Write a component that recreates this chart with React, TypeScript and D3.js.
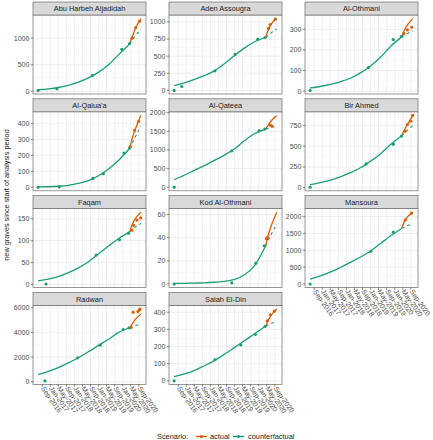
import React from "react";
import * as d3 from "d3";

const sites = [
  "Abu Harbeh Aljadidah",
  "Aden Assougra",
  "Al-Othmani",
  "Al-Qalua'a",
  "Al-Qateea",
  "Bir Ahmed",
  "Faqam",
  "Kod Al-Othmani",
  "Mansoura",
  "Radwan",
  "Salah El-Din",
];

const xDomain = ["2016-07-01", "2020-10-01"];
const xTickDates = [
  "2016-09-01", "2017-01-01", "2017-05-01", "2017-09-01", "2018-01-01",
  "2018-05-01", "2018-09-01", "2019-01-01", "2019-05-01", "2019-09-01",
  "2020-01-01", "2020-05-01", "2020-09-01",
];

const yTicks: number[][] = [
  [0, 500, 1000],
  [0, 250, 500, 750, 1000],
  [0, 100, 200, 300],
  [0, 100, 200, 300, 400],
  [0, 500, 1000, 1500, 2000],
  [0, 250, 500, 750],
  [0, 50, 100, 150],
  [0, 20, 40, 60],
  [0, 500, 1000, 1500, 2000],
  [0, 2000, 4000, 6000],
  [0, 100, 200, 300, 400],
];

// counterfactual model fit (solid green), before the break
const fitDates = [
  "2016-07-01", "2016-12-01", "2017-05-01", "2017-10-01", "2018-03-01",
  "2018-08-01", "2019-01-01", "2019-06-01", "2019-11-01", "2020-04-15",
];
const counterfactualFit: number[][] = [
  [28, 45, 70, 110, 170, 250, 360, 500, 690, 890],
  [70, 110, 160, 215, 285, 390, 510, 620, 710, 775],
  [15, 22, 32, 45, 62, 88, 122, 165, 218, 262],
  [2, 3, 6, 12, 24, 42, 72, 115, 170, 245],
  [200, 320, 450, 580, 720, 860, 1030, 1250, 1440, 1560],
  [35, 60, 90, 130, 180, 240, 320, 410, 520, 625],
  [8, 12, 18, 27, 38, 52, 70, 88, 105, 120],
  [0.5, 0.6, 0.8, 1, 1.5, 2.2, 4, 8, 16, 33],
  [145, 240, 350, 490, 640, 800, 980, 1200, 1430, 1650],
  [590, 850, 1150, 1530, 1950, 2430, 2950, 3450, 4000, 4380],
  [25, 40, 60, 88, 118, 155, 195, 235, 275, 320],
];

// actual model fit (orange), after the break
const actualFitDates = ["2020-04-15", "2020-06-01", "2020-08-01", "2020-10-01"];
const actualFit: number[][] = [
  [890, 1060, 1240, 1370],
  [775, 900, 1000, 1047],
  [262, 300, 330, 352],
  [245, 320, 390, 452],
  [1560, 1690, 1830, 1925],
  [625, 705, 790, 872],
  [120, 140, 155, 165],
  [33, 44, 54, 62],
  [1650, 1880, 2030, 2130],
  [4380, 4750, 5200, 5480],
  [320, 360, 395, 419],
];

// counterfactual projection (dashed green), after the break
const projectionDates = ["2020-04-15", "2020-07-01", "2020-10-01"];
const projection: number[][] = [
  [890, 1030, 1165],
  [775, 835, 896],
  [262, 278, 292],
  [245, 310, 384],
  [1560, 1600, 1640],
  [625, 685, 750],
  [120, 130, 139],
  [33, 42, 52],
  [1650, 1720, 1790],
  [4380, 4530, 4680],
  [320, 333, 347],
];

// observed counts: [site, date, new graves]
const pointsBefore: [string, string, number][] = [
  ["Abu Harbeh Aljadidah", "2016-07-01", 15],
  ["Abu Harbeh Aljadidah", "2017-04-10", 45],
  ["Abu Harbeh Aljadidah", "2018-10-01", 300],
  ["Abu Harbeh Aljadidah", "2019-12-19", 790],
  ["Abu Harbeh Aljadidah", "2020-04-13", 900],
  ["Aden Assougra", "2016-07-01", 0],
  ["Aden Assougra", "2016-10-25", 57],
  ["Aden Assougra", "2018-03-10", 286],
  ["Aden Assougra", "2019-01-10", 524],
  ["Aden Assougra", "2019-12-19", 747],
  ["Aden Assougra", "2020-04-07", 771],
  ["Al-Othmani", "2016-07-01", 3],
  ["Al-Othmani", "2018-11-28", 114],
  ["Al-Othmani", "2019-12-10", 250],
  ["Al-Othmani", "2020-04-10", 265],
  ["Al-Qalua'a", "2016-07-01", 0],
  ["Al-Qalua'a", "2017-05-15", 2],
  ["Al-Qalua'a", "2018-10-07", 55],
  ["Al-Qalua'a", "2019-03-13", 85],
  ["Al-Qalua'a", "2020-01-22", 214],
  ["Al-Qalua'a", "2020-04-13", 247],
  ["Al-Qateea", "2016-07-01", 0],
  ["Al-Qateea", "2018-11-19", 970],
  ["Al-Qateea", "2020-01-07", 1508],
  ["Al-Qateea", "2020-04-01", 1560],
  ["Bir Ahmed", "2016-07-01", 5],
  ["Bir Ahmed", "2018-10-25", 286],
  ["Bir Ahmed", "2019-12-10", 524],
  ["Bir Ahmed", "2020-04-13", 622],
  ["Faqam", "2016-10-28", 1],
  ["Faqam", "2018-11-25", 67],
  ["Faqam", "2019-11-13", 102],
  ["Faqam", "2020-03-28", 117],
  ["Kod Al-Othmani", "2016-07-01", 0],
  ["Kod Al-Othmani", "2018-11-19", 1],
  ["Kod Al-Othmani", "2019-11-19", 18],
  ["Kod Al-Othmani", "2020-03-25", 33],
  ["Mansoura", "2016-07-01", 0],
  ["Mansoura", "2019-01-04", 970],
  ["Mansoura", "2019-12-10", 1540],
  ["Radwan", "2016-10-13", 80],
  ["Radwan", "2018-02-19", 1940],
  ["Radwan", "2019-01-25", 2970],
  ["Radwan", "2020-01-07", 4240],
  ["Radwan", "2020-04-07", 4370],
  ["Salah El-Din", "2016-07-01", 0],
  ["Salah El-Din", "2018-03-10", 123],
  ["Salah El-Din", "2019-04-04", 210],
  ["Salah El-Din", "2019-11-10", 271],
  ["Salah El-Din", "2020-04-07", 318],
];

const pointsAfter: [string, string, number][] = [
  ["Abu Harbeh Aljadidah", "2020-05-20", 1000],
  ["Abu Harbeh Aljadidah", "2020-07-15", 1200],
  ["Abu Harbeh Aljadidah", "2020-09-10", 1320],
  ["Aden Assougra", "2020-05-28", 904],
  ["Aden Assougra", "2020-06-22", 961],
  ["Aden Assougra", "2020-09-07", 1038],
  ["Al-Othmani", "2020-05-19", 280],
  ["Al-Othmani", "2020-07-10", 297],
  ["Al-Othmani", "2020-09-13", 310],
  ["Al-Qalua'a", "2020-04-25", 255],
  ["Al-Qalua'a", "2020-06-28", 358],
  ["Al-Qalua'a", "2020-08-28", 415],
  ["Al-Qateea", "2020-06-22", 1665],
  ["Al-Qateea", "2020-07-19", 1640],
  ["Bir Ahmed", "2020-06-04", 682],
  ["Bir Ahmed", "2020-07-10", 762],
  ["Bir Ahmed", "2020-09-01", 801],
  ["Bir Ahmed", "2020-09-28", 872],
  ["Faqam", "2020-05-18", 124],
  ["Faqam", "2020-06-12", 135],
  ["Faqam", "2020-08-03", 147],
  ["Faqam", "2020-09-28", 152],
  ["Kod Al-Othmani", "2020-04-25", 39],
  ["Kod Al-Othmani", "2020-05-10", 40],
  ["Mansoura", "2020-06-10", 1900],
  ["Mansoura", "2020-09-10", 2100],
  ["Radwan", "2020-05-07", 4400],
  ["Radwan", "2020-06-07", 5640],
  ["Radwan", "2020-08-19", 5700],
  ["Radwan", "2020-09-10", 5830],
  ["Radwan", "2020-09-19", 5900],
  ["Salah El-Din", "2020-05-10", 350],
  ["Salah El-Din", "2020-06-25", 385],
  ["Salah El-Din", "2020-08-25", 407],
];

const scenarios = ["actual", "counterfactual"];
const colors: Record<string, string> = { actual: "#d95f02", counterfactual: "#1b9e77" };

const W = 433;
const H = 440;
const FONT = "'Liberation Sans', Arial, Helvetica, sans-serif";
const parse = d3.timeParse("%Y-%m-%d");
const fmt = d3.timeFormat("%b-%Y");

const colLeft = [33, 169, 305];
const panelW = 113;
const rowStripTop = [2, 98.8, 195.6, 292.4];
const stripH = 13;
const panelH = 79;
const borderColor = "#6b6b6b";

function Panel({ i }: { i: number }) {
  const site = sites[i];
  const col = i % 3;
  const row = Math.floor(i / 3);
  const x0 = colLeft[col];
  const sTop = rowStripTop[row];
  const y0 = sTop + stripH;
  const showX = i + 3 >= sites.length;

  const padX = (panelW * 0.05) / 1.1;
  const x = d3
    .scaleTime()
    .domain(xDomain.map((d) => parse(d) as Date))
    .range([x0 + padX, x0 + panelW - padX]);

  const bef = pointsBefore.filter((p) => p[0] === site);
  const aft = pointsAfter.filter((p) => p[0] === site);
  const allVals = [
    ...counterfactualFit[i],
    ...actualFit[i],
    ...projection[i],
    ...bef.map((p) => p[2]),
    ...aft.map((p) => p[2]),
  ];
  const lo = d3.min(allVals) as number;
  const hi = d3.max(allVals) as number;
  const padY = (panelH * 0.05) / 1.1;
  const y = d3.scaleLinear().domain([lo, hi]).range([y0 + panelH - padY, y0 + padY]);
  const dLo = y.invert(y0 + panelH);
  const dHi = y.invert(y0);

  const ticks = yTicks[i];
  const step = ticks[1] - ticks[0];
  const yMinor: number[] = [];
  for (let k = -1; k < ticks.length; k++) {
    const v = ticks[0] + step * (k + 0.5);
    if (v >= dLo && v <= dHi) yMinor.push(v);
  }
  const xMajor = xTickDates.map((d) => parse(d) as Date);
  const xMinor: Date[] = [];
  const xLo = x.invert(x0);
  const xHi = x.invert(x0 + panelW);
  for (let k = -1; k < xMajor.length; k++) {
    const a = k < 0 ? d3.timeMonth.offset(xMajor[0], -4) : xMajor[k];
    const m = d3.timeMonth.offset(a, 2);
    if (m >= xLo && m <= xHi) xMinor.push(m);
  }

  const line = d3
    .line<[string, number]>()
    .x((d) => x(parse(d[0]) as Date))
    .y((d) => y(d[1]))
    .curve(d3.curveMonotoneX);

  const fitPts = fitDates.map((d, k) => [d, counterfactualFit[i][k]] as [string, number]);
  const actPts = actualFitDates.map((d, k) => [d, actualFit[i][k]] as [string, number]);
  const projPts = projectionDates.map((d, k) => [d, projection[i][k]] as [string, number]);

  const clipId = `clip${i}`;

  return (
    <g>
      <defs>
        <clipPath id={clipId}>
          <rect x={x0} y={y0} width={panelW} height={panelH} />
        </clipPath>
      </defs>
      <rect x={x0} y={y0} width={panelW} height={panelH} fill="#ffffff" />
      {yMinor.map((v) => (
        <line key={"ym" + v} x1={x0} x2={x0 + panelW} y1={y(v)} y2={y(v)} stroke="#f2f2f2" strokeWidth={0.4} />
      ))}
      {xMinor.map((d) => (
        <line key={"xm" + d.getTime()} x1={x(d)} x2={x(d)} y1={y0} y2={y0 + panelH} stroke="#f2f2f2" strokeWidth={0.4} />
      ))}
      {ticks.map((v) => (
        <line key={"yM" + v} x1={x0} x2={x0 + panelW} y1={y(v)} y2={y(v)} stroke="#e6e6e6" strokeWidth={0.7} />
      ))}
      {xMajor.map((d) => (
        <line key={"xM" + d.getTime()} x1={x(d)} x2={x(d)} y1={y0} y2={y0 + panelH} stroke="#e6e6e6" strokeWidth={0.7} />
      ))}
      <g clipPath={`url(#${clipId})`}>
        <path d={line(fitPts) || ""} fill="none" stroke={colors.counterfactual} strokeWidth={1.3} />
        <path d={line(projPts) || ""} fill="none" stroke={colors.counterfactual} strokeWidth={1.1} strokeDasharray="3,3" />
        <path d={line(actPts) || ""} fill="none" stroke={colors.actual} strokeWidth={1.3} />
        {bef.map((p, k) => (
          <circle key={"b" + k} cx={x(parse(p[1]) as Date)} cy={y(p[2])} r={1.6} fill={colors.counterfactual} />
        ))}
        {aft.map((p, k) => (
          <circle key={"a" + k} cx={x(parse(p[1]) as Date)} cy={y(p[2])} r={1.6} fill={colors.actual} />
        ))}
      </g>
      <rect x={x0} y={y0} width={panelW} height={panelH} fill="none" stroke={borderColor} strokeWidth={0.7} />
      <rect x={x0} y={sTop} width={panelW} height={stripH} fill="#d9d9d9" stroke={borderColor} strokeWidth={0.7} />
      <text x={x0 + panelW / 2} y={sTop + stripH / 2 + 2.6} textAnchor="middle" fontSize={7.4} fill="#1a1a1a" fontFamily={FONT}>
        {site}
      </text>
      {ticks.map((v) => (
        <g key={"yt" + v}>
          <line x1={x0 - 2.2} x2={x0} y1={y(v)} y2={y(v)} stroke="#333333" strokeWidth={0.6} />
          <text x={x0 - 3.6} y={y(v) + 2.5} textAnchor="end" fontSize={7} fill="#4d4d4d" fontFamily={FONT}>
            {d3.format("d")(v)}
          </text>
        </g>
      ))}
      {showX &&
        xMajor.map((d) => {
          const tx = x(d);
          const ty = y0 + panelH;
          return (
            <g key={"xt" + d.getTime()}>
              <line x1={tx} x2={tx} y1={ty} y2={ty + 2.2} stroke="#333333" strokeWidth={0.6} />
              <text
                transform={`translate(${tx - 1.5},${ty + 4}) rotate(55)`}
                fontSize={7}
                fill="#4d4d4d"
                fontFamily={FONT}
                textAnchor="start"
              >
                {fmt(d)}
              </text>
            </g>
          );
        })}
    </g>
  );
}

export default function App() {
  const legendY = 436.5;
  const keyX = [196, 233];
  const labelX = [210, 248];
  return (
    <svg
      width={W}
      height={H}
      viewBox={`0 0 ${W} ${H}`}
      style={{ position: "absolute", left: 0, top: 0, background: "#ffffff" }}
    >
      <rect x={0} y={0} width={W} height={H} fill="#ffffff" />
      {sites.map((_, i) => (
        <Panel key={i} i={i} />
      ))}
      <text
        transform={`translate(8.5,195) rotate(-90)`}
        textAnchor="middle"
        fontSize={7.3}
        fill="#1a1a1a"
        fontFamily={FONT}
      >
        new graves since start of analysis period
      </text>
      <text x={157} y={legendY + 2.6} fontSize={7.4} fill="#1a1a1a" fontFamily={FONT}>
        Scenario:
      </text>
      {scenarios.map((s, k) => (
        <g key={s}>
          <line x1={keyX[k]} x2={keyX[k] + 11} y1={legendY} y2={legendY} stroke={colors[s]} strokeWidth={1.4} />
          <circle cx={keyX[k] + 5.5} cy={legendY} r={1.6} fill={colors[s]} />
          <text x={labelX[k]} y={legendY + 2.6} fontSize={7.4} fill="#1a1a1a" fontFamily={FONT}>
            {s}
          </text>
        </g>
      ))}
    </svg>
  );
}
